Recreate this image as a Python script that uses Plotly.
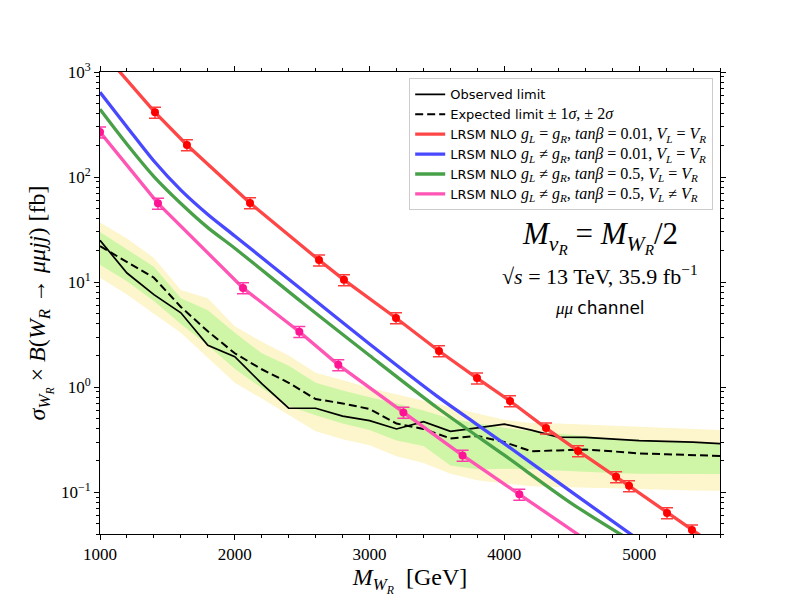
import plotly.graph_objects as go

# ---------------- data ----------------
mass_grid = [1000, 1200, 1400, 1600, 1800, 2000, 2200, 2400, 2600, 2800, 3000, 3200,
             3400, 3600, 3800, 4000, 4200, 4400, 4600, 4800, 5000, 5200, 5400, 5600]
observed = [25, 12.2, 7.6, 5.1, 2.5, 1.95, 1.08, 0.63, 0.63, 0.53, 0.48, 0.40,
            0.47, 0.38, 0.41, 0.445, 0.39, 0.335, 0.333, 0.32, 0.31, 0.305, 0.30, 0.29]
expected = [22, 15.5, 11.0, 5.8, 3.4, 2.1, 1.48, 1.1, 0.77, 0.70, 0.62, 0.45,
            0.40, 0.325, 0.343, 0.30, 0.245, 0.25, 0.255, 0.245, 0.234, 0.23, 0.225, 0.221]
sigma1_up = [30, 20.5, 14.0, 7.0, 5.4, 3.3, 2.1, 1.6, 1.1, 0.93, 0.80, 0.70,
             0.60, 0.50, 0.45, 0.41, 0.38, 0.36, 0.34, 0.325, 0.315, 0.305, 0.298, 0.292]
sigma1_dn = [14.6, 10.2, 6.6, 4.0, 2.5, 1.5, 0.98, 0.66, 0.54, 0.45, 0.39, 0.31,
             0.275, 0.18, 0.165, 0.167, 0.165, 0.16, 0.155, 0.152, 0.15, 0.149, 0.149, 0.149]
sigma2_up = [37, 26, 17.0, 8.4, 7.0, 3.8, 2.7, 2.0, 1.37, 1.17, 0.98, 0.85,
             0.74, 0.64, 0.56, 0.49, 0.455, 0.45, 0.44, 0.43, 0.42, 0.41, 0.40, 0.39]
sigma2_dn = [11.0, 7.6, 5.0, 3.3, 1.9, 1.1, 0.78, 0.54, 0.38, 0.32, 0.28, 0.22,
             0.19, 0.15, 0.13, 0.121, 0.114, 0.112, 0.111, 0.109, 0.107, 0.105, 0.104, 0.103]

red_line_m = [1000, 1408, 1645, 2113, 2625, 2810, 3196, 3515, 3797, 4042, 4309, 4547,
              4829, 4925, 5207, 5392, 5600]
red_line_v = [1650, 413, 202, 56.6, 16.2, 10.5, 4.55, 2.21, 1.22, 0.738, 0.408, 0.247,
              0.140, 0.115, 0.0634, 0.0436, 0.0287]
red_pts_m = [1408, 1645, 2113, 2625, 2810, 3196, 3515, 3797, 4042, 4309, 4547, 4829,
             4925, 5207, 5392]
red_pts_v = [413, 202, 56.6, 16.2, 10.5, 4.55, 2.21, 1.22, 0.738, 0.408, 0.247, 0.140,
             0.115, 0.0634, 0.0436]

blue_m = [1000, 1200, 1400, 1600, 1800, 2000, 2500, 3000, 3500, 4000, 4500, 5000]
blue_v = [641, 300, 142, 75, 44, 27.5, 8.4, 2.57, 0.82, 0.29, 0.10, 0.035]

green_m = [1000, 1200, 1400, 1600, 1800, 2000, 2500, 3000, 3500, 4000, 4500, 5000]
green_v = [441, 205, 101, 56, 33, 21, 6.4, 2.0, 0.64, 0.225, 0.078, 0.031]

pink_line_m = [1000, 1430, 2061, 2479, 2768, 3251, 3690, 4111, 4600]
pink_line_v = [268, 56.2, 8.79, 3.37, 1.63, 0.575, 0.224, 0.0955, 0.0355]
pink_pts_m = [1000, 1430, 2061, 2479, 2768, 3251, 3690, 4111]
pink_pts_v = [268, 56.2, 8.79, 3.37, 1.63, 0.575, 0.224, 0.0955]

y_tick_vals = [0.1, 1, 10, 100, 1000]
y_tick_text = ["10<sup>−1</sup>", "10<sup>0</sup>", "10<sup>1</sup>", "10<sup>2</sup>", "10<sup>3</sup>"]
x_tick_vals = [1000, 2000, 3000, 4000, 5000]

SERIF = "Liberation Serif"
SANS = "DejaVu Sans"

def m(s):
    return f"<span style='font-family:{SERIF};font-size:16px'>{s}</span>"

fig = go.Figure()

# bands (2 sigma yellow, 1 sigma green)
fig.add_trace(go.Scatter(x=mass_grid, y=sigma2_up, mode="lines", line=dict(width=0),
                         showlegend=False, hoverinfo="skip"))
fig.add_trace(go.Scatter(x=mass_grid, y=sigma2_dn, mode="lines", line=dict(width=0),
                         fill="tonexty", fillcolor="rgb(253,245,203)", showlegend=False, hoverinfo="skip"))
fig.add_trace(go.Scatter(x=mass_grid, y=sigma1_up, mode="lines", line=dict(width=0),
                         showlegend=False, hoverinfo="skip"))
fig.add_trace(go.Scatter(x=mass_grid, y=sigma1_dn, mode="lines", line=dict(width=0),
                         fill="tonexty", fillcolor="rgb(206,246,166)", showlegend=False, hoverinfo="skip"))

fig.add_trace(go.Scatter(x=mass_grid, y=observed, mode="lines",
                         line=dict(color="black", width=1.7), name="Observed limit"))
fig.add_trace(go.Scatter(x=mass_grid, y=expected, mode="lines",
                         line=dict(color="black", width=2, dash="8px,4px"),
                         name="Expected limit " + m("± 1<i>σ</i>, ± 2<i>σ</i>")))

red_c = "rgb(255,70,70)"
blue_c = "rgb(72,72,255)"
green_c = "rgb(72,160,72)"
pink_c = "rgb(255,85,180)"

fig.add_trace(go.Scatter(x=red_line_m, y=red_line_v, mode="lines", line=dict(color=red_c, width=3.3),
                         name="LRSM NLO " + m("<i>g<sub>L</sub></i> = <i>g<sub>R</sub></i>, <i>tanβ</i> = 0.01, <i>V<sub>L</sub></i> = <i>V<sub>R</sub></i>")))
fig.add_trace(go.Scatter(x=blue_m, y=blue_v, mode="lines", line=dict(color=blue_c, width=3.3, shape="spline", smoothing=0.8),
                         name="LRSM NLO " + m("<i>g<sub>L</sub></i> ≠ <i>g<sub>R</sub></i>, <i>tanβ</i> = 0.01, <i>V<sub>L</sub></i> = <i>V<sub>R</sub></i>")))
fig.add_trace(go.Scatter(x=green_m, y=green_v, mode="lines", line=dict(color=green_c, width=3.3, shape="spline", smoothing=0.8),
                         name="LRSM NLO " + m("<i>g<sub>L</sub></i> ≠ <i>g<sub>R</sub></i>, <i>tanβ</i> = 0.5, <i>V<sub>L</sub></i> = <i>V<sub>R</sub></i>")))
fig.add_trace(go.Scatter(x=pink_line_m, y=pink_line_v, mode="lines", line=dict(color=pink_c, width=3.3),
                         name="LRSM NLO " + m("<i>g<sub>L</sub></i> ≠ <i>g<sub>R</sub></i>, <i>tanβ</i> = 0.5, <i>V<sub>L</sub></i> ≠ <i>V<sub>R</sub></i>")))

fig.add_trace(go.Scatter(x=red_pts_m, y=red_pts_v, mode="markers", showlegend=False,
                         marker=dict(color="rgb(255,0,0)", size=8),
                         error_y=dict(type="percent", value=12, color="rgb(255,60,60)", thickness=1.5, width=6)))
fig.add_trace(go.Scatter(x=pink_pts_m, y=pink_pts_v, mode="markers", showlegend=False,
                         marker=dict(color="rgb(255,20,147)", size=8),
                         error_y=dict(type="percent", value=12, color="rgb(255,60,170)", thickness=1.5, width=6)))

y_minor = [k * 10 ** e for e in range(-2, 3) for k in range(2, 10) if 0.04 <= k * 10 ** e <= 1000]
x_minor = list(range(1000, 5601, 200))

fig.update_layout(
    width=800, height=600,
    margin=dict(l=100, r=80, t=72, b=66),
    plot_bgcolor="white", paper_bgcolor="white",
    font=dict(family=SERIF, color="black", size=17),
    xaxis=dict(range=[1000, 5600], showgrid=False, zeroline=False,
               showline=True, linecolor="black", linewidth=1, mirror="allticks",
               ticks="outside", ticklen=5, tickwidth=1, tickcolor="black",
               tickvals=x_tick_vals, tickfont=dict(family=SERIF, size=17),
               minor=dict(tickvals=x_minor, ticks="outside", ticklen=3, tickcolor="black", tickwidth=1),
               title=dict(text="<i>M<sub>W<sub>R</sub></sub></i>  [GeV]", font=dict(family=SERIF, size=24), standoff=4)),
    yaxis=dict(type="log", range=[-1.39794, 3], showgrid=False, zeroline=False,
               showline=True, linecolor="black", linewidth=1, mirror="allticks",
               ticks="outside", ticklen=5, tickwidth=1, tickcolor="black",
               tickvals=y_tick_vals, ticktext=y_tick_text, tickfont=dict(family=SERIF, size=17),
               minor=dict(tickvals=y_minor, ticks="outside", ticklen=3, tickcolor="black", tickwidth=1),
               title=dict(text="<i>σ<sub>W<sub>R</sub></sub></i> × <i>B</i>(<i>W<sub>R</sub></i> → <i>μμjj</i>) [fb]",
                          font=dict(family=SERIF, size=24), standoff=8)),
    legend=dict(x=0.989, y=0.986, xanchor="right", yanchor="top", traceorder="normal",
                bgcolor="rgba(255,255,255,0.85)", bordercolor="#cccccc", borderwidth=1,
                font=dict(family=SANS, size=13, color="black"), itemwidth=30,
                tracegroupgap=0),
)

fig.add_annotation(xref="paper", yref="paper", x=0.806, y=0.643, showarrow=False,
                   text="<i>M<sub>ν<sub>R</sub></sub></i> = <i>M<sub>W<sub>R</sub></sub></i>/2",
                   font=dict(family=SERIF, size=31), xanchor="center", yanchor="middle")
fig.add_annotation(xref="paper", yref="paper", x=0.806, y=0.561, showarrow=False,
                   text="√<i>s</i> = 13 TeV, 35.9 fb<sup>−1</sup>",
                   font=dict(family=SERIF, size=22), xanchor="center", yanchor="middle")
fig.add_annotation(xref="paper", yref="paper", x=0.806, y=0.489, showarrow=False,
                   text="<i>μμ</i> <span style='font-family:" + SANS + "'>channel</span>",
                   font=dict(family=SERIF, size=17), xanchor="center", yanchor="middle")

fig.write_html("out.html")
